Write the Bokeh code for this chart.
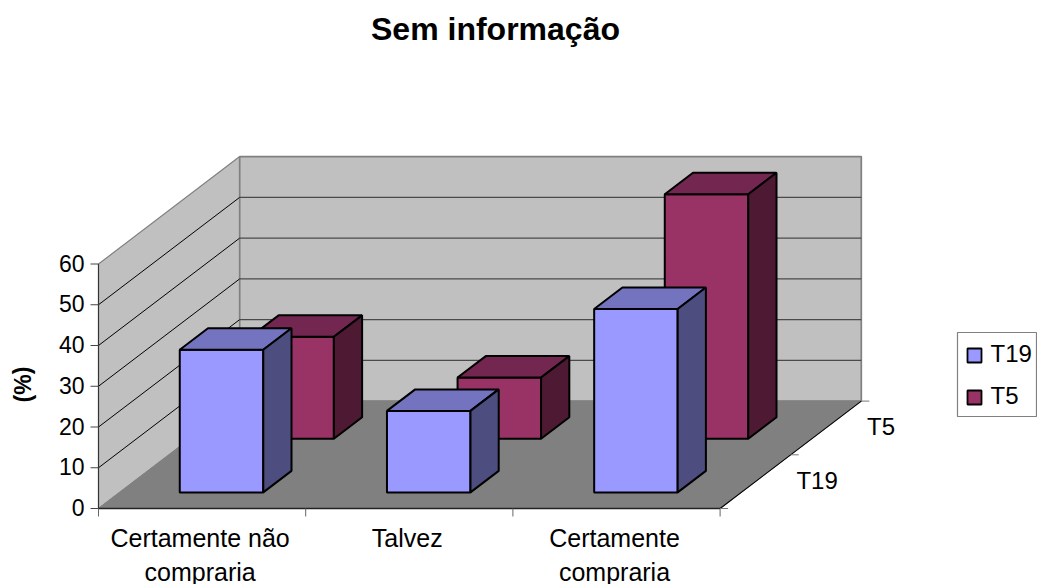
from bokeh.plotting import figure
from bokeh.embed import file_html
from bokeh.resources import INLINE
from bokeh.core.properties import value

categories = ["Certamente não\ncompraria", "Talvez", "Certamente\ncompraria"]
series_names = ["T19", "T5"]
t19_values = [35, 20, 45]
t5_values = [25, 15, 60]
y_ticks = [0, 10, 20, 30, 40, 50, 60]
title = "Sem informação"
y_title = "(%)"

FONT = "Liberation Sans"
X0, Y0 = 98.0, 508.0
CAT_W = 207.2
UNIT = 244.5 / 60
DX, DY = 70.6, -53.7     # one series step in depth
BAR_OFF, BAR_W = 0.29, 0.403
D_OFF, D_W = 0.3, 0.4
COL = {"T19": ("#9999FF", "#7373BF", "#4D4D80"),
       "T5": ("#993366", "#732650", "#4D1933")}


def P(c, v, d):
    return X0 + c * CAT_W + d * DX, Y0 - v * UNIT + d * DY


p = figure(width=1037, height=584, x_range=(0, 1037), y_range=(584, 0),
           output_backend="svg", toolbar_location=None, min_border=0)
p.axis.visible = False
p.grid.visible = False
p.outline_line_color = None
p.background_fill_color = "white"
p.border_fill_color = "white"

n_c, n_s, vmax = len(categories), len(series_names), y_ticks[-1]


def poly(pts, fill, line="#000000", lw=1.0):
    xs, ys = zip(*pts)
    p.patch(list(xs), list(ys), fill_color=fill, line_color=line, line_width=lw)


def seg(a, b, color, lw=1.0):
    p.line([a[0], b[0]], [a[1], b[1]], line_color=color, line_width=lw)


# walls and floor
WALL = "#C0C0C0"
poly([P(0, 0, 0), P(0, vmax, 0), P(0, vmax, n_s), P(0, 0, n_s)], WALL, "#808080", 1.2)
poly([P(0, 0, n_s), P(0, vmax, n_s), P(n_c, vmax, n_s), P(n_c, 0, n_s)], WALL, "#808080", 1.7)
poly([P(0, 0, 0), P(0, 0, n_s), P(n_c, 0, n_s), P(n_c, 0, 0)], "#808080", "#808080", 1.0)

# gridlines
for t in y_ticks[1:-1]:
    seg(P(0, t, 0), P(0, t, n_s), "#000000", 1.0)
    seg(P(0, t, n_s), P(n_c, t, n_s), "#4a4a4a", 1.3)

# axes
seg(P(0, 0, 0), P(0, vmax, 0), "#333333", 1.1)
seg(P(0, 0, 0), P(n_c, 0, 0), "#222222", 1.4)
seg(P(n_c, 0, 0), P(n_c, 0, n_s), "#000000", 1.1)
for t in y_ticks:
    a = P(0, t, 0)
    p.line([a[0] - 8, a[0]], [a[1], a[1]], line_color="#444444", line_width=1)
    p.text([a[0] - 14], [a[1] - 1], text=[str(t)], text_font=value(FONT), text_font_size="23px",
           text_align="right", text_baseline="middle", text_color="#000000")
for c in range(n_c + 1):
    a = P(c, 0, 0)
    p.line([a[0], a[0]], [a[1], a[1] + 8], line_color="#666666", line_width=1)
for d in range(n_s + 1):
    a = P(n_c, 0, d)
    p.line([a[0], a[0] + 8], [a[1], a[1]], line_color="#777777", line_width=1)

# bars, back series first
for s in range(n_s - 1, -1, -1):
    name = series_names[s]
    vals = [t19_values, t5_values][s]
    front, top, side = COL[name]
    for c, v in enumerate(vals):
        xl, xr = c + BAR_OFF, c + BAR_OFF + BAR_W
        d0, d1 = s + D_OFF, s + D_OFF + D_W
        poly([P(xl, 0, d0), P(xl, v, d0), P(xr, v, d0), P(xr, 0, d0)], front, "#000000", 2.0)
        poly([P(xl, v, d0), P(xl, v, d1), P(xr, v, d1), P(xr, v, d0)], top, "#000000", 2.0)
        poly([P(xr, 0, d0), P(xr, v, d0), P(xr, v, d1), P(xr, 0, d1)], side, "#000000", 2.0)

# category labels
for c, label in enumerate(categories):
    a = P(c + 0.5, 0, 0)
    lines = label.split("\n")
    for i, t in enumerate(lines):
        p.text([a[0] - 2], [a[1] + 29 + 34 * i], text=[t], text_font=value(FONT), text_font_size="25px",
               text_align="center", text_baseline="middle", text_color="#000000")

# depth labels
for s, name in enumerate(series_names):
    a = P(n_c, 0, s + 0.5)
    p.text([a[0] + 41], [a[1] - 1], text=[name], text_font=value(FONT), text_font_size="24px",
           text_align="left", text_baseline="middle", text_color="#000000")

# title and y title
p.text([495], [28], text=[title], text_font=value(FONT), text_font_size="32px", text_font_style="bold",
       text_align="center", text_baseline="middle", text_color="#000000")
p.text([22], [384], text=[y_title], text_font=value(FONT), text_font_size="23px", text_font_style="bold",
       text_align="center", text_baseline="middle", angle=1.5708, text_color="#000000")

# legend
LX, LY = 957, 332
p.quad(left=[LX], right=[1036], top=[LY], bottom=[LY + 84], fill_color="white", line_color="#808080", line_width=1.2)
for s, name in enumerate(series_names):
    yc = LY + 23 + 42 * s
    p.quad(left=[LX + 10], right=[LX + 24], top=[yc - 7], bottom=[yc + 7],
           fill_color=COL[name][0], line_color="#000000", line_width=1.8)
    p.text([LX + 33], [yc - 2], text=[name], text_font=value(FONT), text_font_size="24px",
           text_align="left", text_baseline="middle", text_color="#000000")

open("out.html", "w").write(file_html(p, INLINE))
